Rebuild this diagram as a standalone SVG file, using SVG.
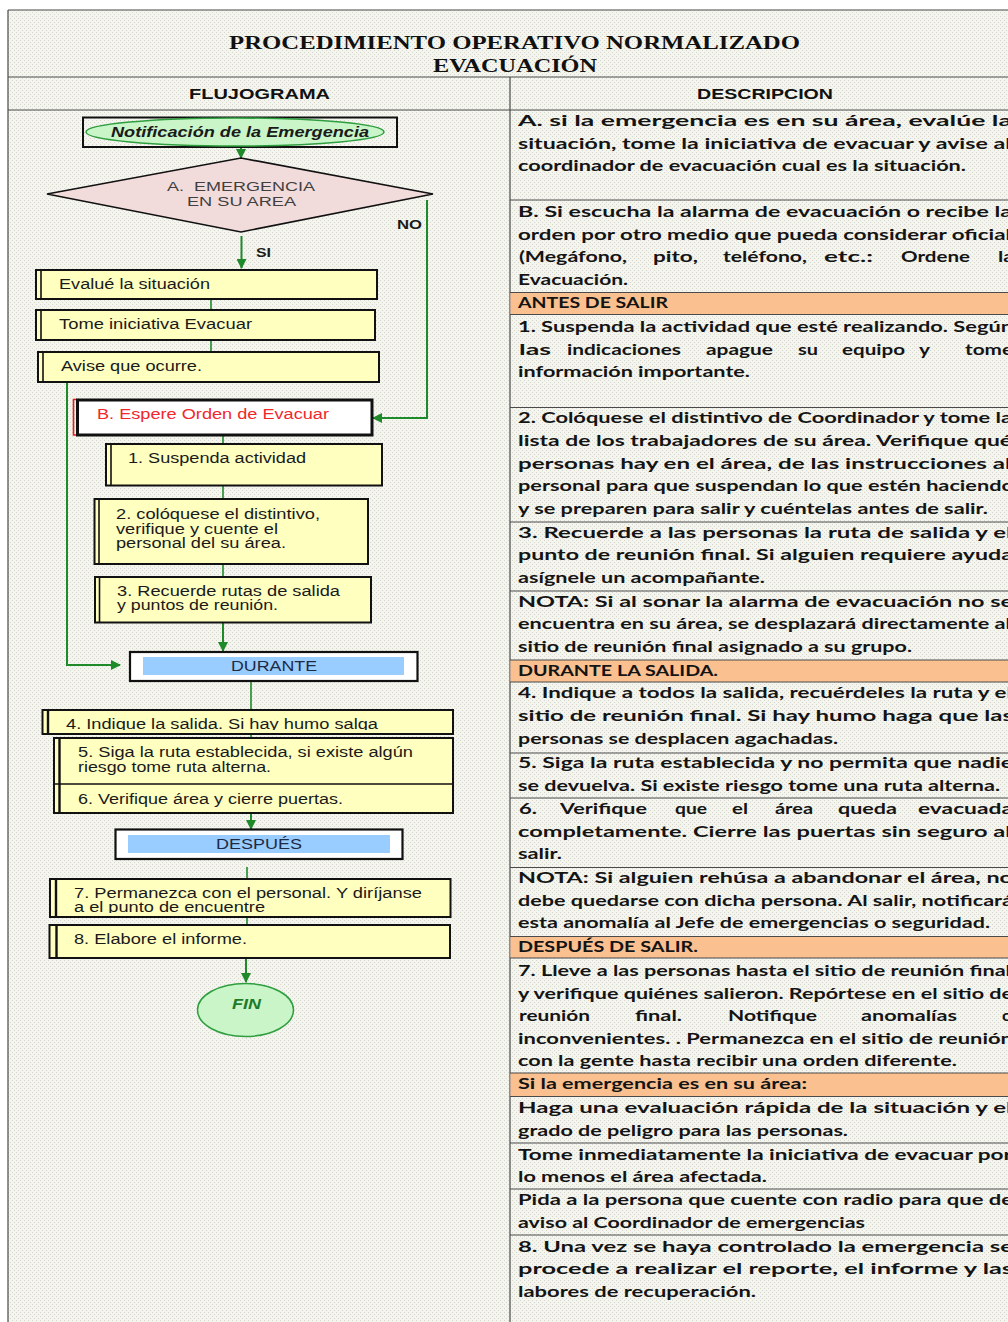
<svg xmlns="http://www.w3.org/2000/svg" width="1008" height="1322" viewBox="0 0 1008 1322">
<defs>
<pattern id="bg" width="4" height="4" patternUnits="userSpaceOnUse"><rect width="4" height="4" fill="#f5f5f0"/><rect x="0" y="0" width="1" height="1" fill="#d6d6cc"/><rect x="2" y="2" width="1" height="1" fill="#d6d6cc"/></pattern>
<marker id="arr" markerWidth="10" markerHeight="10" refX="9" refY="5" orient="auto" markerUnits="userSpaceOnUse"><path d="M0,0 L10,5 L0,10 z" fill="#1f8a2a"/></marker>
<clipPath id="c4"><rect x="44" y="711" width="408" height="19"/></clipPath>
<clipPath id="c7"><rect x="52" y="880" width="398" height="33"/></clipPath>
<style>
.grid{stroke:#4a4a4a;stroke-width:1.2;fill:none}
.org{fill:#fac090}
.d{font-family:Lato,"Open Sans",sans-serif;font-weight:700;font-size:15px;fill:#141414}
.t{font-family:"Liberation Sans",Arial,sans-serif;font-size:14px;fill:#1a1a1a}
.box{fill:#ffffc0;stroke:#111;stroke-width:2}
.bar{stroke:#111;stroke-width:1.6}
.sep{fill:#ffffff;stroke:#111;stroke-width:2.2}
.blue{fill:#99ccff}
.lbl{font-family:"Liberation Sans",Arial,sans-serif;font-size:14px;fill:#1f2a44}
.con{stroke:#1f8a2a;stroke-width:1.6;fill:none}
.arw{stroke:#1f8a2a;stroke-width:2;fill:none;marker-end:url(#arr)}
</style>
</defs>
<rect x="0" y="0" width="1008" height="1322" fill="#ffffff"/>
<rect x="8" y="10" width="1010" height="1320" fill="url(#bg)"/>

<g id="table">
<path class="grid" d="M8,10 H1008 M8,10 V1322 M8,77 H1008 M8,110 H1008 M510,77 V1322"/>
<text x="229" y="49" textLength="571" lengthAdjust="spacingAndGlyphs" style="font-family:'Liberation Serif','Times New Roman',serif;font-weight:700;font-size:18px;fill:#111">PROCEDIMIENTO OPERATIVO NORMALIZADO</text>
<text x="433" y="72" textLength="164" lengthAdjust="spacingAndGlyphs" style="font-family:'Liberation Serif','Times New Roman',serif;font-weight:700;font-size:18px;fill:#111">EVACUACIÓN</text>
<text x="189" y="99" textLength="141" lengthAdjust="spacingAndGlyphs" style="font-family:'Liberation Sans',Arial,sans-serif;font-weight:700;font-size:15px;fill:#111">FLUJOGRAMA</text>
<text x="697" y="99" textLength="136" lengthAdjust="spacingAndGlyphs" style="font-family:'Liberation Sans',Arial,sans-serif;font-weight:700;font-size:15px;fill:#111">DESCRIPCION</text>
</g>

<g id="desc">
<rect class="org" x="510.5" y="292.5" width="498" height="22"/>
<rect class="org" x="510.5" y="660" width="498" height="22"/>
<rect class="org" x="510.5" y="936.5" width="498" height="21.5"/>
<rect class="org" x="510.5" y="1073" width="498" height="23.5"/>
<path class="grid" d="M510,200 H1008 M510,292.5 H1008 M510,314.5 H1008 M510,407.5 H1008 M510,522 H1008 M510,591 H1008 M510,660 H1008 M510,682 H1008 M510,753 H1008 M510,798 H1008 M510,867.5 H1008 M510,936.5 H1008 M510,958 H1008 M510,1073 H1008 M510,1096.5 H1008 M510,1143 H1008 M510,1189 H1008 M510,1235 H1008"/>

<text class="d" x="518" y="126" textLength="494" lengthAdjust="spacingAndGlyphs">A.  si la emergencia es en su área, evalúe la</text>
<text class="d" x="518" y="148.5" textLength="493" lengthAdjust="spacingAndGlyphs">situación, tome la iniciativa de evacuar y avise al</text>
<text class="d" x="518" y="171" textLength="448" lengthAdjust="spacingAndGlyphs">coordinador de  evacuación cual es la situación.</text>

<text class="d" x="518" y="217" textLength="494" lengthAdjust="spacingAndGlyphs">B. Si escucha la alarma de evacuación o recibe la</text>
<text class="d" x="518" y="239.5" textLength="493" lengthAdjust="spacingAndGlyphs">orden por otro medio que pueda considerar oficial</text>
<g>
<text class="d" x="519" y="262" textLength="108" lengthAdjust="spacingAndGlyphs">(Megáfono,</text>
<text class="d" x="653" y="262" textLength="45" lengthAdjust="spacingAndGlyphs">pito,</text>
<text class="d" x="723" y="262" textLength="84" lengthAdjust="spacingAndGlyphs">teléfono,</text>
<text class="d" x="824" y="262" textLength="49" lengthAdjust="spacingAndGlyphs">etc.:</text>
<text class="d" x="901" y="262" textLength="69" lengthAdjust="spacingAndGlyphs">Ordene</text>
<text class="d" x="998" y="262" textLength="16" lengthAdjust="spacingAndGlyphs">la</text>
</g>
<text class="d" x="518" y="284.5" textLength="110" lengthAdjust="spacingAndGlyphs">Evacuación.</text>
<text class="d" x="518" y="308" textLength="150" lengthAdjust="spacingAndGlyphs">ANTES DE SALIR</text>

<text class="d" x="518" y="331.5" textLength="495" lengthAdjust="spacingAndGlyphs">1. Suspenda la actividad que esté realizando. Según</text>
<g>
<text class="d" x="519" y="354.5" textLength="32" lengthAdjust="spacingAndGlyphs">las</text>
<text class="d" x="567" y="354.5" textLength="114" lengthAdjust="spacingAndGlyphs">indicaciones</text>
<text class="d" x="706" y="354.5" textLength="67" lengthAdjust="spacingAndGlyphs">apague</text>
<text class="d" x="798" y="354.5" textLength="20" lengthAdjust="spacingAndGlyphs">su</text>
<text class="d" x="842" y="354.5" textLength="63" lengthAdjust="spacingAndGlyphs">equipo</text>
<text class="d" x="919" y="354.5" textLength="11" lengthAdjust="spacingAndGlyphs">y</text>
<text class="d" x="965" y="354.5" textLength="48" lengthAdjust="spacingAndGlyphs">tome</text>
</g>
<text class="d" x="518" y="376.5" textLength="232" lengthAdjust="spacingAndGlyphs">información importante.</text>

<text class="d" x="518" y="423" textLength="494" lengthAdjust="spacingAndGlyphs">2. Colóquese el distintivo de Coordinador y tome la</text>
<text class="d" x="518" y="446" textLength="494" lengthAdjust="spacingAndGlyphs">lista de los trabajadores de su área. Verifique qué</text>
<text class="d" x="518" y="468.5" textLength="493" lengthAdjust="spacingAndGlyphs">personas hay en el área, de las instrucciones al</text>
<text class="d" x="518" y="491" textLength="496" lengthAdjust="spacingAndGlyphs">personal para que suspendan lo que estén haciendo</text>
<text class="d" x="518" y="513.5" textLength="470" lengthAdjust="spacingAndGlyphs">y se preparen para salir y cuéntelas antes de salir.</text>

<text class="d" x="518" y="538" textLength="494" lengthAdjust="spacingAndGlyphs">3. Recuerde a las personas la ruta de salida y el</text>
<text class="d" x="518" y="560" textLength="495" lengthAdjust="spacingAndGlyphs">punto de reunión final. Si alguien requiere ayuda</text>
<text class="d" x="518" y="582.5" textLength="247" lengthAdjust="spacingAndGlyphs">asígnele un acompañante.</text>

<text class="d" x="518" y="607" textLength="495" lengthAdjust="spacingAndGlyphs">NOTA: Si al sonar la alarma de evacuación no se</text>
<text class="d" x="518" y="629" textLength="493" lengthAdjust="spacingAndGlyphs">encuentra en su área, se desplazará directamente al</text>
<text class="d" x="518" y="652" textLength="394" lengthAdjust="spacingAndGlyphs">sitio de reunión final asignado a su grupo.</text>
<text class="d" x="518" y="675.5" textLength="200" lengthAdjust="spacingAndGlyphs">DURANTE LA SALIDA.</text>

<text class="d" x="518" y="698" textLength="494" lengthAdjust="spacingAndGlyphs">4. Indique a todos la salida, recuérdeles la ruta y el</text>
<text class="d" x="518" y="721" textLength="495" lengthAdjust="spacingAndGlyphs">sitio de reunión final. Si hay humo haga que las</text>
<text class="d" x="518" y="743.5" textLength="320" lengthAdjust="spacingAndGlyphs">personas se desplacen agachadas.</text>

<text class="d" x="518" y="768" textLength="495" lengthAdjust="spacingAndGlyphs">5. Siga la ruta establecida y  no permita que nadie</text>
<text class="d" x="518" y="790.5" textLength="482" lengthAdjust="spacingAndGlyphs">se devuelva. Si existe riesgo tome una ruta alterna.</text>

<g>
<text class="d" x="519" y="814" textLength="18" lengthAdjust="spacingAndGlyphs">6.</text>
<text class="d" x="560" y="814" textLength="87" lengthAdjust="spacingAndGlyphs">Verifique</text>
<text class="d" x="675" y="814" textLength="32" lengthAdjust="spacingAndGlyphs">que</text>
<text class="d" x="732" y="814" textLength="16" lengthAdjust="spacingAndGlyphs">el</text>
<text class="d" x="775" y="814" textLength="38" lengthAdjust="spacingAndGlyphs">área</text>
<text class="d" x="838" y="814" textLength="59" lengthAdjust="spacingAndGlyphs">queda</text>
<text class="d" x="918" y="814" textLength="95" lengthAdjust="spacingAndGlyphs">evacuada</text>
</g>
<text class="d" x="518" y="836.5" textLength="493" lengthAdjust="spacingAndGlyphs">completamente. Cierre las puertas sin seguro al</text>
<text class="d" x="518" y="859" textLength="44" lengthAdjust="spacingAndGlyphs">salir.</text>

<text class="d" x="518" y="882.5" textLength="495" lengthAdjust="spacingAndGlyphs">NOTA: Si alguien rehúsa a abandonar el área, no</text>
<text class="d" x="518" y="905.5" textLength="495" lengthAdjust="spacingAndGlyphs">debe quedarse con dicha persona. Al salir, notificará</text>
<text class="d" x="518" y="927.5" textLength="472" lengthAdjust="spacingAndGlyphs">esta anomalía al Jefe de emergencias o seguridad.</text>
<text class="d" x="518" y="952" textLength="180" lengthAdjust="spacingAndGlyphs">DESPUÉS DE SALIR.</text>

<text class="d" x="518" y="976" textLength="493" lengthAdjust="spacingAndGlyphs">7. Lleve a las personas hasta el sitio de reunión final</text>
<text class="d" x="518" y="998.5" textLength="495" lengthAdjust="spacingAndGlyphs">y verifique quiénes salieron. Repórtese en el sitio de</text>
<g>
<text class="d" x="519" y="1021" textLength="71" lengthAdjust="spacingAndGlyphs">reunión</text>
<text class="d" x="635" y="1021" textLength="47" lengthAdjust="spacingAndGlyphs">final.</text>
<text class="d" x="728" y="1021" textLength="89" lengthAdjust="spacingAndGlyphs">Notifique</text>
<text class="d" x="861" y="1021" textLength="96" lengthAdjust="spacingAndGlyphs">anomalías</text>
<text class="d" x="1002" y="1021" textLength="10" lengthAdjust="spacingAndGlyphs">o</text>
</g>
<text class="d" x="518" y="1043.5" textLength="495" lengthAdjust="spacingAndGlyphs">inconvenientes. . Permanezca en el sitio de reunión</text>
<text class="d" x="518" y="1066" textLength="439" lengthAdjust="spacingAndGlyphs">con la gente hasta recibir una orden diferente.</text>
<text class="d" x="518" y="1089" textLength="289" lengthAdjust="spacingAndGlyphs">Si la emergencia es en su área:</text>

<text class="d" x="518" y="1112.5" textLength="494" lengthAdjust="spacingAndGlyphs">Haga una evaluación rápida de la situación y el</text>
<text class="d" x="518" y="1135.5" textLength="330" lengthAdjust="spacingAndGlyphs">grado de peligro para las personas.</text>
<text class="d" x="518" y="1160" textLength="494" lengthAdjust="spacingAndGlyphs">Tome inmediatamente la iniciativa de evacuar por</text>
<text class="d" x="518" y="1181.5" textLength="249" lengthAdjust="spacingAndGlyphs">lo menos el área afectada.</text>
<text class="d" x="518" y="1205" textLength="495" lengthAdjust="spacingAndGlyphs">Pida a la persona que cuente con radio para que de</text>
<text class="d" x="518" y="1227.5" textLength="347" lengthAdjust="spacingAndGlyphs">aviso al Coordinador de emergencias</text>
<text class="d" x="518" y="1251.5" textLength="495" lengthAdjust="spacingAndGlyphs">8. Una vez se haya controlado la emergencia se</text>
<text class="d" x="518" y="1274" textLength="495" lengthAdjust="spacingAndGlyphs">procede a realizar el reporte,  el informe y las</text>
<text class="d" x="518" y="1296.5" textLength="238" lengthAdjust="spacingAndGlyphs">labores de recuperación.</text>
</g>

<g id="connectors">
<line class="arw" x1="241" y1="147" x2="241" y2="158"/>
<line class="arw" x1="241.5" y1="236" x2="241.5" y2="268"/>
<polyline class="arw" points="427,200 427,418 373,418"/>
<line class="con" x1="211" y1="299" x2="211" y2="310"/>
<line class="con" x1="211" y1="340" x2="211" y2="352"/>
<polyline class="arw" points="67,382 67,665 120,665"/>
<line class="con" x1="223" y1="435" x2="223" y2="444"/>
<line class="con" x1="223" y1="486" x2="223" y2="499"/>
<line class="con" x1="223" y1="564" x2="223" y2="577"/>
<line class="arw" x1="223" y1="623" x2="223" y2="651"/>
<line class="con" x1="251" y1="681" x2="251" y2="710"/>
<line class="con" x1="251" y1="734" x2="251" y2="738"/>
<line class="arw" x1="251" y1="813" x2="251" y2="829"/>
<line class="con" x1="247" y1="867" x2="247" y2="879"/>
<line class="con" x1="247" y1="918" x2="247" y2="925"/>
<line class="arw" x1="246" y1="958" x2="246" y2="982"/>
<text x="397" y="229" textLength="25" lengthAdjust="spacingAndGlyphs" style="font-family:'Liberation Sans',Arial,sans-serif;font-weight:700;font-size:13px;fill:#1a1a1a">NO</text>
<text x="256" y="257" textLength="15" lengthAdjust="spacingAndGlyphs" style="font-family:'Liberation Sans',Arial,sans-serif;font-weight:700;font-size:13px;fill:#1a1a1a">SI</text>
</g>

<g id="n-notificacion">
<rect x="83" y="117.5" width="314" height="29.5" fill="none" stroke="#111" stroke-width="2"/>
<ellipse cx="235" cy="132" rx="149" ry="14" fill="#c9f5c9" stroke="#2e9e3e" stroke-width="1.5"/>
<text x="111" y="137" textLength="258" lengthAdjust="spacingAndGlyphs" style="font-family:'Liberation Sans',Arial,sans-serif;font-weight:700;font-style:italic;font-size:14px;fill:#1a1a1a">Notificación de la Emergencia</text>
</g>

<g id="n-emergencia">
<polygon points="47,194 241,158 433,194 241,232" fill="#f2dcdb" stroke="#111" stroke-width="1.6"/>
<text x="167" y="191" textLength="148" lengthAdjust="spacingAndGlyphs" xml:space="preserve" style="font-family:'Liberation Sans',Arial,sans-serif;font-size:12.5px;fill:#404040">A.  EMERGENCIA</text>
<text x="187" y="206" textLength="109" lengthAdjust="spacingAndGlyphs" style="font-family:'Liberation Sans',Arial,sans-serif;font-size:12.5px;fill:#404040">EN SU AREA</text>
</g>

<g id="n-evalue">
<rect class="box" x="36" y="270" width="341" height="29"/>
<line class="bar" x1="41" y1="270" x2="41" y2="299"/>
<text class="t" x="59" y="289" textLength="151" lengthAdjust="spacingAndGlyphs">Evalué la situación</text>
</g>

<g id="n-tome">
<rect class="box" x="36" y="310" width="339" height="30"/>
<line class="bar" x1="41" y1="310" x2="41" y2="340"/>
<text class="t" x="59" y="328.5" textLength="193" lengthAdjust="spacingAndGlyphs">Tome iniciativa Evacuar</text>
</g>

<g id="n-avise">
<rect class="box" x="38" y="352" width="341" height="30"/>
<line class="bar" x1="43" y1="352" x2="43" y2="382"/>
<text class="t" x="61" y="371" textLength="141" lengthAdjust="spacingAndGlyphs">Avise que ocurre.</text>
</g>

<g id="n-espere">
<path d="M77,399.5 H73.5 V435 H77" fill="none" stroke="#ee1c1c" stroke-width="1.6"/>
<rect x="77.5" y="400" width="294.5" height="35" fill="#ffffff" stroke="#111" stroke-width="3"/>
<text x="97" y="419" textLength="232" lengthAdjust="spacingAndGlyphs" style="font-family:'Liberation Sans',Arial,sans-serif;font-size:14px;fill:#f0282d">B. Espere Orden de Evacuar</text>
</g>

<g id="n-suspenda">
<rect class="box" x="106" y="444" width="276" height="41.5"/>
<line class="bar" x1="111" y1="444" x2="111" y2="485.5"/>
<text class="t" x="128" y="463" textLength="178" lengthAdjust="spacingAndGlyphs">1. Suspenda actividad</text>
</g>

<g id="n-coloquese">
<rect class="box" x="94.5" y="499" width="273.5" height="65"/>
<line class="bar" x1="99" y1="499" x2="99" y2="564"/>
<text class="t" x="116" y="518.5" textLength="204" lengthAdjust="spacingAndGlyphs">2. colóquese el distintivo,</text>
<text class="t" x="116" y="533.5" textLength="162" lengthAdjust="spacingAndGlyphs">verifique y cuente el</text>
<text class="t" x="116" y="548" textLength="170" lengthAdjust="spacingAndGlyphs">personal del su área.</text>
</g>

<g id="n-recuerde">
<rect class="box" x="95" y="577" width="276" height="45.5"/>
<line class="bar" x1="99.5" y1="577" x2="99.5" y2="622.5"/>
<text class="t" x="117" y="595.5" textLength="223" lengthAdjust="spacingAndGlyphs">3. Recuerde rutas de salida</text>
<text class="t" x="117" y="609.5" textLength="161" lengthAdjust="spacingAndGlyphs">y puntos de reunión.</text>
</g>

<g id="n-durante">
<rect class="sep" x="130" y="652" width="287.5" height="29"/>
<rect class="blue" x="143" y="657" width="261" height="18"/>
<text class="lbl" x="231" y="670.5" textLength="86" lengthAdjust="spacingAndGlyphs">DURANTE</text>
</g>

<g id="n-indique">
<rect class="box" x="42.5" y="710" width="410.5" height="24"/>
<line class="bar" x1="48" y1="710" x2="48" y2="734" style="stroke-width:2.4"/>
<text class="t" x="66" y="728.5" textLength="312" lengthAdjust="spacingAndGlyphs" clip-path="url(#c4)">4. Indique la salida. Si hay humo salga</text>
</g>

<g id="n-siga-verifique">
<rect class="box" x="54" y="738" width="399" height="75"/>
<line class="bar" x1="59.5" y1="738" x2="59.5" y2="813" style="stroke-width:2.4"/>
<line class="bar" x1="54" y1="784" x2="453" y2="784"/>
<text class="t" x="78" y="757" textLength="335" lengthAdjust="spacingAndGlyphs">5. Siga la ruta establecida, si existe algún</text>
<text class="t" x="78" y="771.5" textLength="193" lengthAdjust="spacingAndGlyphs">riesgo tome ruta alterna.</text>
<text class="t" x="78" y="803.5" textLength="265" lengthAdjust="spacingAndGlyphs">6. Verifique área y cierre puertas.</text>
</g>

<g id="n-despues">
<rect class="sep" x="115.5" y="829.5" width="287" height="29.5"/>
<rect class="blue" x="128" y="835" width="262" height="18"/>
<text class="lbl" x="216" y="848.5" textLength="86" lengthAdjust="spacingAndGlyphs">DESPUÉS</text>
</g>

<g id="n-permanezca">
<rect class="box" x="50" y="879" width="400.5" height="38"/>
<line class="bar" x1="56" y1="879" x2="56" y2="917" style="stroke-width:2.4"/>
<text class="t" x="74" y="897.5" textLength="348" lengthAdjust="spacingAndGlyphs">7. Permanezca con el personal. Y diríjanse</text>
<text class="t" x="74" y="911.5" textLength="191" lengthAdjust="spacingAndGlyphs" clip-path="url(#c7)">a el punto de encuentre</text>
</g>

<g id="n-elabore">
<rect class="box" x="49.5" y="925" width="400.5" height="33"/>
<line class="bar" x1="56.5" y1="925" x2="56.5" y2="958" style="stroke-width:2.4"/>
<text class="t" x="74" y="943.5" textLength="173" lengthAdjust="spacingAndGlyphs">8. Elabore el informe.</text>
</g>

<g id="n-fin">
<ellipse cx="245.5" cy="1010" rx="48" ry="26.5" fill="#c9f5c9" stroke="#2e9e3e" stroke-width="1.5"/>
<text x="232" y="1008.5" textLength="29" lengthAdjust="spacingAndGlyphs" style="font-family:'Liberation Sans',Arial,sans-serif;font-weight:700;font-style:italic;font-size:14px;fill:#1e7b2a">FIN</text>
</g>
</svg>
